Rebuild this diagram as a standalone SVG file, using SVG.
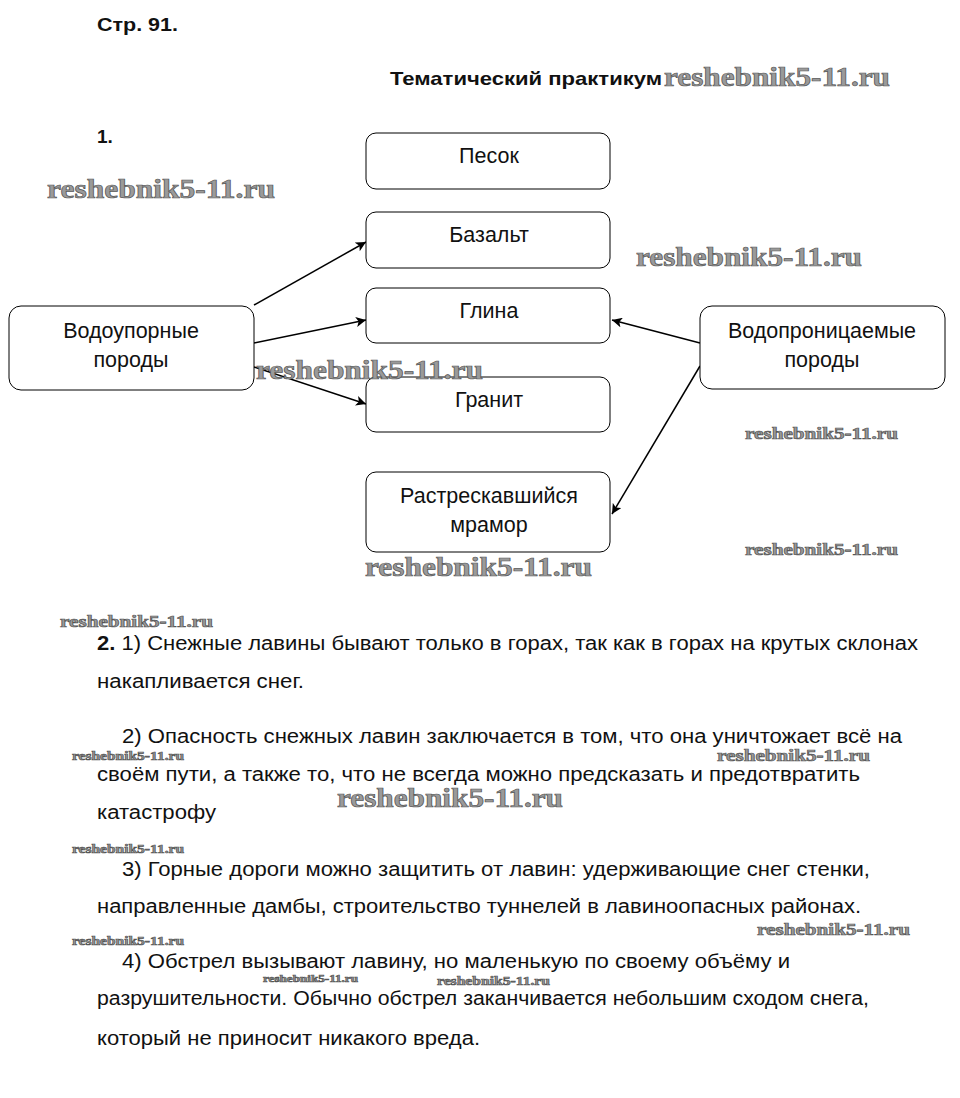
<svg xmlns="http://www.w3.org/2000/svg" width="960" height="1098" viewBox="0 0 960 1098">
<defs>
<marker id="ah" viewBox="0 0 10 10" refX="10" refY="5" markerWidth="10" markerHeight="10" markerUnits="userSpaceOnUse" orient="auto">
<path d="M0,0 L10,5 L0,10 L2.5,5 Z" fill="#000"/>
</marker>
</defs>
<style>
.box{fill:#fff;stroke:#000;stroke-width:1}
.bt{font-family:"Liberation Sans",Arial,sans-serif;font-size:21.5px;fill:#111;text-anchor:middle}
.tx{font-family:"Liberation Sans",Arial,sans-serif;font-size:20px;fill:#111}
.hd{font-family:"Liberation Sans",Arial,sans-serif;font-size:19px;font-weight:bold;fill:#111}
.wm{font-family:"Liberation Serif","Times New Roman",serif;font-weight:bold;fill:#9a9a9a;stroke:#555;stroke-width:0.7}
.ln{stroke:#000;stroke-width:1.5;fill:none;marker-end:url(#ah)}
</style>
<rect width="960" height="1098" fill="#fff"/>
<text class="hd" x="97" y="31" textLength="81" lengthAdjust="spacingAndGlyphs">Стр. 91.</text>
<text class="hd" x="390" y="85" textLength="272" lengthAdjust="spacingAndGlyphs">Тематический практикум</text>
<text class="hd" x="97" y="143" font-size="20">1.</text>

<g id="connectors">
<line class="ln" x1="254" y1="305" x2="366" y2="242"/>
<line class="ln" x1="254" y1="343" x2="366" y2="320"/>
<line class="ln" x1="254" y1="367" x2="366" y2="404"/>
<line class="ln" x1="700" y1="343" x2="612" y2="320"/>
<line class="ln" x1="700" y1="366" x2="612" y2="514"/>
</g>

<g id="n-pesok"><rect class="box" x="366" y="133" width="244" height="56" rx="10"/><text class="bt" x="489" y="163">Песок</text></g>
<g id="n-bazalt"><rect class="box" x="366" y="212" width="244" height="56" rx="10"/><text class="bt" x="489" y="242">Базальт</text></g>
<g id="n-glina"><rect class="box" x="366" y="288" width="244" height="55" rx="10"/><text class="bt" x="489" y="318">Глина</text></g>
<g id="n-granit"><rect class="box" x="366" y="377" width="244" height="55" rx="10"/><text class="bt" x="489" y="407">Гранит</text></g>
<g id="n-mramor"><rect class="box" x="366" y="472" width="244" height="80" rx="10"/><text class="bt" x="489" y="503">Растрескавшийся</text><text class="bt" x="489" y="532">мрамор</text></g>
<g id="n-vodoup"><rect class="box" x="9" y="306" width="245" height="84" rx="12"/><text class="bt" x="131" y="338">Водоупорные</text><text class="bt" x="131" y="367">породы</text></g>
<g id="n-vodopr"><rect class="box" x="700" y="306" width="245" height="83" rx="12"/><text class="bt" x="822" y="338">Водопроницаемые</text><text class="bt" x="822" y="367">породы</text></g>

<g id="answer2">
<text class="tx" x="97" y="650" textLength="821" lengthAdjust="spacingAndGlyphs"><tspan font-weight="bold">2.</tspan> 1) Снежные лавины бывают только в горах, так как в горах на крутых склонах</text>
<text class="tx" x="97" y="688" textLength="207" lengthAdjust="spacingAndGlyphs">накапливается снег.</text>
<text class="tx" x="122" y="743" textLength="780" lengthAdjust="spacingAndGlyphs">2) Опасность снежных лавин заключается в том, что она уничтожает всё на</text>
<text class="tx" x="97" y="781" textLength="763" lengthAdjust="spacingAndGlyphs">своём пути, а также то, что не всегда можно предсказать и предотвратить</text>
<text class="tx" x="97" y="819" textLength="119" lengthAdjust="spacingAndGlyphs">катастрофу</text>
<text class="tx" x="122" y="876" textLength="748" lengthAdjust="spacingAndGlyphs">3) Горные дороги можно защитить от лавин: удерживающие снег стенки,</text>
<text class="tx" x="97" y="913" textLength="764" lengthAdjust="spacingAndGlyphs">направленные дамбы, строительство туннелей в лавиноопасных районах.</text>
<text class="tx" x="122" y="968" textLength="668" lengthAdjust="spacingAndGlyphs">4) Обстрел вызывают лавину, но маленькую по своему объёму и</text>
<text class="tx" x="97" y="1005" textLength="772" lengthAdjust="spacingAndGlyphs">разрушительности. Обычно обстрел заканчивается небольшим сходом снега,</text>
<text class="tx" x="97" y="1045" textLength="383" lengthAdjust="spacingAndGlyphs">который не приносит никакого вреда.</text>
</g>

<g id="watermarks">
<text class="wm" x="664" y="86" font-size="27" textLength="226" lengthAdjust="spacingAndGlyphs">reshebnik5-11.ru</text>
<text class="wm" x="47" y="198" font-size="27" textLength="228" lengthAdjust="spacingAndGlyphs">reshebnik5-11.ru</text>
<text class="wm" x="636" y="266" font-size="27" textLength="226" lengthAdjust="spacingAndGlyphs">reshebnik5-11.ru</text>
<text class="wm" x="256" y="379" font-size="27" textLength="227" lengthAdjust="spacingAndGlyphs">reshebnik5-11.ru</text>
<text class="wm" x="745" y="439" font-size="17" stroke-width="0.4" textLength="153" lengthAdjust="spacingAndGlyphs">reshebnik5-11.ru</text>
<text class="wm" x="745" y="555" font-size="17" stroke-width="0.4" textLength="153" lengthAdjust="spacingAndGlyphs">reshebnik5-11.ru</text>
<text class="wm" x="365" y="576" font-size="27" textLength="227" lengthAdjust="spacingAndGlyphs">reshebnik5-11.ru</text>
<text class="wm" x="60" y="627" font-size="17" stroke-width="0.4" textLength="153" lengthAdjust="spacingAndGlyphs">reshebnik5-11.ru</text>
<text class="wm" x="72" y="760" font-size="13" stroke-width="0.3" textLength="112" lengthAdjust="spacingAndGlyphs">reshebnik5-11.ru</text>
<text class="wm" x="717" y="761" font-size="17" stroke-width="0.4" textLength="153" lengthAdjust="spacingAndGlyphs">reshebnik5-11.ru</text>
<text class="wm" x="337" y="807" font-size="27" textLength="226" lengthAdjust="spacingAndGlyphs">reshebnik5-11.ru</text>
<text class="wm" x="72" y="853" font-size="13" stroke-width="0.3" textLength="112" lengthAdjust="spacingAndGlyphs">reshebnik5-11.ru</text>
<text class="wm" x="757" y="935" font-size="17" stroke-width="0.4" textLength="153" lengthAdjust="spacingAndGlyphs">reshebnik5-11.ru</text>
<text class="wm" x="72" y="945" font-size="13" stroke-width="0.3" textLength="112" lengthAdjust="spacingAndGlyphs">reshebnik5-11.ru</text>
<text class="wm" x="263" y="982" font-size="11" stroke-width="0.25" textLength="95" lengthAdjust="spacingAndGlyphs">reshebnik5-11.ru</text>
<text class="wm" x="437" y="985" font-size="13" stroke-width="0.3" textLength="113" lengthAdjust="spacingAndGlyphs">reshebnik5-11.ru</text>
</g>
</svg>
